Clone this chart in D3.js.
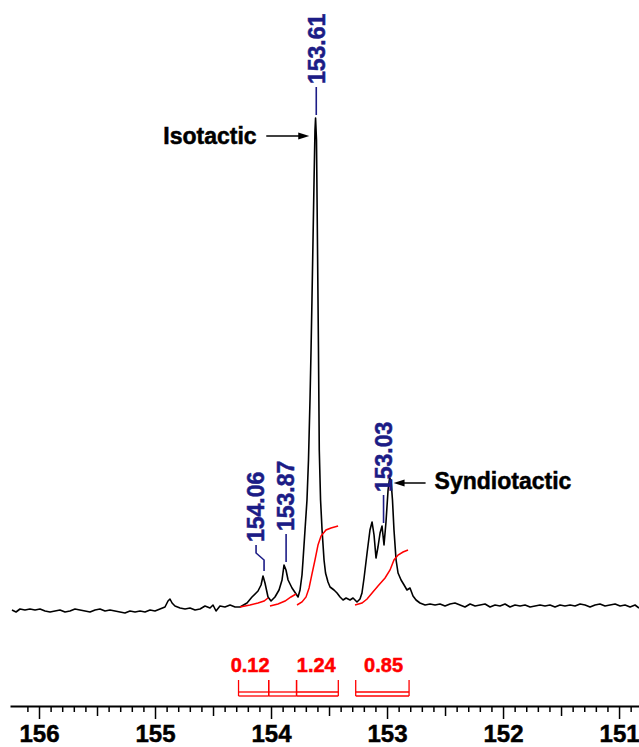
<!DOCTYPE html>
<html>
<head>
<meta charset="utf-8">
<script src="https://cdn.jsdelivr.net/npm/d3@7"></script>
<style>
  html, body { margin: 0; padding: 0; background: #fff; }
  svg { display: block; font-family: "Liberation Sans", Arial, sans-serif; }
</style>
</head>
<body>
<svg id="nmr" width="639" height="747"></svg>
<script>
/* 13C carbonyl region — isotactic / syndiotactic triads */

/* ---------- data ------------------------------------------ */
// [ppm, intensity]  intensity in arbitrary units, baseline = 0
const spectrum = [
  [156.233,-3],[156.198,-5],[156.164,-2],[156.121,-3],[156.078,-2],[156.034,-3],
  [155.991,-2],[155.948,-4],[155.905,-5],[155.862,-4],[155.819,-3],[155.776,-5],
  [155.733,-4],[155.690,-2],[155.647,-3],[155.603,-4],[155.560,-5],[155.517,-3],
  [155.474,-2],[155.431,-4],[155.388,-3],[155.345,-4],[155.302,-5],[155.259,-6],
  [155.216,-4],[155.172,-5],[155.129,-4],[155.086,-5],[155.043,-3],[155.000,-4],
  [154.957,-2],[154.914,0],[154.888,6],[154.871,8],[154.853,4],[154.828,1],
  [154.784,-1],[154.741,-2],[154.698,-1],[154.655,-3],[154.612,-2],[154.569,1],
  [154.526,-1],[154.500,2],[154.474,-4],[154.440,1],[154.397,0],[154.353,2],
  [154.310,0],[154.267,0],
  [154.207,4],[154.164,10],[154.112,16],[154.086,22],[154.069,31],[154.052,24],
  [154.026,10],[154.000,6],[153.966,10],[153.931,17],[153.905,27],[153.888,42],
  [153.871,37],[153.853,27],[153.819,19],[153.784,13],[153.767,10],[153.750,17],
  [153.733,32],[153.724,47],[153.707,77],[153.690,107],[153.677,147],[153.664,207],
  [153.655,257],[153.647,307],[153.638,367],[153.629,427],[153.621,477],[153.616,489],
  [153.608,467],[153.599,357],[153.591,257],[153.584,157],[153.573,107],[153.560,77],
  [153.543,47],[153.530,34],[153.509,25],[153.491,20],[153.457,17],[153.431,14],
  [153.405,10],[153.379,7],[153.353,9],[153.319,7],[153.293,9],[153.259,5],
  [153.233,8],[153.216,14],[153.198,29],[153.172,54],[153.147,77],[153.129,85],
  [153.112,72],[153.095,49],[153.078,60],[153.060,74],[153.043,81],[153.026,62],
  [153.009,85],[152.991,117],[152.978,129],[152.966,127],[152.953,107],[152.940,77],
  [152.922,47],[152.905,34],[152.879,27],[152.853,22],[152.828,17],[152.802,19],
  [152.776,11],[152.750,7],[152.716,4],[152.672,2],
  [152.629,3],[152.586,2],[152.543,3],[152.500,1],[152.457,3],[152.414,4],
  [152.371,2],[152.328,0],[152.284,3],[152.241,1],[152.198,2],[152.155,3],
  [152.112,0],[152.069,2],[152.026,1],[151.983,3],[151.940,0],[151.897,2],
  [151.853,1],[151.810,2],[151.767,0],[151.724,1],[151.681,2],[151.638,1],
  [151.595,2],[151.552,0],[151.509,2],[151.466,1],[151.422,2],[151.379,1],
  [151.336,3],[151.293,2],[151.250,0],[151.207,2],[151.164,3],[151.121,1],
  [151.078,2],[151.034,3],[150.991,1],[150.948,2],[150.905,0],[150.862,2],
  [150.828,-1]
];

// running integral traces, one per integrated region
const integrals = [
  [[154.267,0],[154.181,2],[154.112,4],[154.060,6],[154.026,9]],
  [[154.009,1],[153.940,3],[153.879,6],[153.828,10],[153.784,13]],
  [[153.776,2],[153.733,5],[153.698,10],[153.672,19],[153.647,33],[153.621,47],
   [153.595,62],[153.569,71],[153.526,77],[153.483,79],[153.422,81]],
  [[153.276,2],[153.216,4],[153.172,8],[153.129,14],[153.078,21],[153.017,29],
   [152.974,37],[152.940,47],[152.905,52],[152.862,55],[152.819,57]]
];

const integralRegions = [[154.28,154.02],[154.02,153.78],[153.78,153.42],[153.27,152.81]];
const integralValues  = ['0.12','1.24','0.85'];
const integralCentres = [154.18,153.61,153.03];

const peakLabels  = [154.06,153.87,153.61,153.03];
const majorTicks  = [156,155,154,153,152,151];
const annotations = ['Isotactic','Syndiotactic'];

/* ---------- svg & scales ---------------------------------- */
const svg = d3.select('#nmr');

const x = d3.scaleLinear().domain([156.25,150.828]).range([10,639]);
const y = d3.scaleLinear().domain([0,489]).range([607,118]);

const BLUE = '#1c1c86', RED = '#ff0000';

// heavy bold look of the original print
const heavy = (sel,col) => sel.style('fill',col).style('font-weight','bold')
                              .style('stroke',col).style('stroke-width','0.5px');

/* ---------- spectrum -------------------------------------- */
const line = d3.line().x(d=>x(d[0])).y(d=>y(d[1]));

svg.append('path')
   .datum(spectrum)
   .attr('d',line)
   .attr('fill','none')
   .attr('stroke','#000')
   .attr('stroke-width',1.6)
   .attr('stroke-linejoin','round');

svg.selectAll('.integral')
   .data(integrals)
   .enter().append('path')
     .attr('class','integral')
     .attr('d',line)
     .attr('fill','none')
     .attr('stroke',RED)
     .attr('stroke-width',1.5);

/* ---------- peak labels (rotated, with leaders) ----------- */
const peakTop = p => d3.max(spectrum.filter(d=>Math.abs(d[0]-p)<=0.02), d=>d[1]);
const labelShift = {154.06:-8};          // label nudged left of its peak

peakLabels.forEach(p=>{
  const px = x(p), py = y(peakTop(p)),
        tx = px + (labelShift[p]||0),
        by = py - 34;                     // bottom of the rotated text

  svg.append('text')
     .attr('transform',`translate(${tx},${by}) rotate(-90)`)
     .attr('dy','0.36em')
     .text(p.toFixed(2))
     .style('font-size','23px')
     .call(heavy,BLUE);

  const pts = tx===px
    ? [[px,by+3],[px,py-3]]
    : [[tx,by+3],[tx,by+11],[px,by+18],[px,py-5]];
  svg.append('path')
     .attr('d',d3.line()(pts))
     .attr('fill','none')
     .attr('stroke',BLUE)
     .attr('stroke-width',1.6);
});

/* ---------- annotations ----------------------------------- */
const arrow = (x1,x2,yy) => {
  const dir = Math.sign(x2-x1);
  svg.append('line')
     .attr('x1',x1).attr('x2',x2-dir*8).attr('y1',yy).attr('y2',yy)
     .attr('stroke','#000').attr('stroke-width',1.5);
  svg.append('path')
     .attr('d',`M${x2},${yy}L${x2-dir*11},${yy-3.5}L${x2-dir*11},${yy+3.5}Z`)
     .attr('fill','#000');
};

const isoX = x(153.61), synX = x(152.978);
svg.append('text')
   .attr('x',isoX-153).attr('y',144)
   .text(annotations[0])
   .style('font-size','23px')
   .call(heavy,'#000');
arrow(isoX-50, isoX-7, 136);

svg.append('text')
   .attr('x',synX+45).attr('y',489)
   .text(annotations[1])
   .style('font-size','23px')
   .call(heavy,'#000');
arrow(synX+36, synX+4, 483);

/* ---------- integration brackets -------------------------- */
const br = svg.append('g')
              .attr('stroke',RED).attr('stroke-width',1.3).attr('fill','none');
integralRegions.forEach(([a,b])=>{
  const x0 = x(a), x1 = x(b);
  br.append('line').attr('x1',x0).attr('x2',x1).attr('y1',692).attr('y2',692);
  br.append('line').attr('x1',x0).attr('x2',x1).attr('y1',696).attr('y2',696);
  br.append('line').attr('x1',x0).attr('x2',x0).attr('y1',680).attr('y2',696);
  br.append('line').attr('x1',x1).attr('x2',x1).attr('y1',680).attr('y2',696);
});

svg.selectAll('.ival')
   .data(integralValues)
   .enter().append('text')
     .attr('class','ival')
     .attr('x',(d,i)=>x(integralCentres[i]))
     .attr('y',672)
     .attr('text-anchor','middle')
     .text(d=>d)
     .style('font-size','20px')
     .call(heavy,RED);

/* ---------- ppm axis -------------------------------------- */
const minor = d3.range(1509,1562).filter(k=>k%10).map(k=>k/10);

const axG = svg.append('g').attr('transform','translate(0,706)');

axG.append('g')
   .call(d3.axisBottom(x).tickValues(minor.filter(v=>Math.round(v*10)%5))
           .tickSize(6).tickSizeOuter(0).tickFormat(''))
   .call(g=>g.select('.domain').remove());

axG.append('g')
   .call(d3.axisBottom(x).tickValues(minor.filter(v=>Math.round(v*10)%5===0))
           .tickSize(10).tickSizeOuter(0).tickFormat(''))
   .call(g=>g.select('.domain').remove());

axG.append('g')
   .call(d3.axisBottom(x).tickValues(majorTicks)
           .tickSize(13).tickSizeOuter(0).tickPadding(6)
           .tickFormat(d3.format('d')))
   .call(g=>g.select('.domain').attr('stroke-width',2))
   .call(g=>g.selectAll('.tick text')
             .style('font-size','24px')
             .style('font-family','"Liberation Sans", Arial, sans-serif')
             .call(heavy,'#000'));

axG.selectAll('.tick line').attr('stroke-width',1.5);
</script>
</body>
</html>
